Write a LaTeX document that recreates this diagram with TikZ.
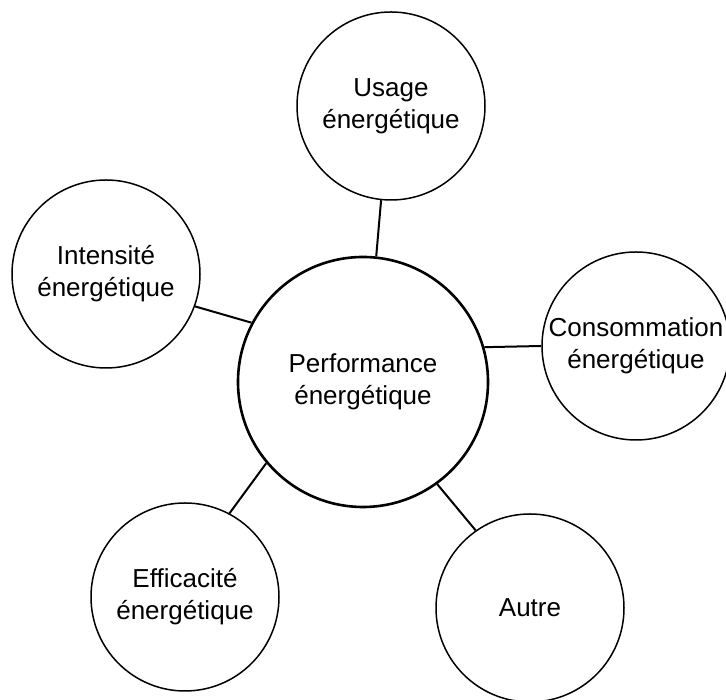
\documentclass[tikz,border=0pt]{standalone}
\usepackage{fontspec}
\setmainfont{Liberation Sans}
\usepackage{tikz}

\begin{document}
\begin{tikzpicture}[x=1pt, y=1pt,
    bubble/.style={draw, circle, line width=1.5pt, minimum size=188pt, inner sep=0pt, align=center, font=\fontsize{26}{32}\selectfont},
    hub/.style={bubble, line width=2.6pt, minimum size=250pt}]
    \useasboundingbox (0,0) rectangle (726,700);
    \node[hub] (perf) at (363,318) {Performance\\énergétique};
    \node[bubble] (usage) at (391,594) {Usage\\énergétique};
    \node[bubble] (intens) at (106,426) {Intensité\\énergétique};
    \node[bubble] (conso) at (636,354) {Consommation\\énergétique};
    \node[bubble] (effic) at (185,103) {Efficacité\\énergétique};
    \node[bubble] (autre) at (530,92) {Autre};
    \draw[line width=2pt] (perf.84) -- (usage.264);
    \draw[line width=2pt] (perf.152) -- (intens.-20);
    \draw[line width=2pt] (perf.16) -- (conso.west);
    \draw[line width=2pt] (perf.220) -- (effic.62);
    \draw[line width=2pt] (perf.306) -- (autre.125);
\end{tikzpicture}
\end{document}
